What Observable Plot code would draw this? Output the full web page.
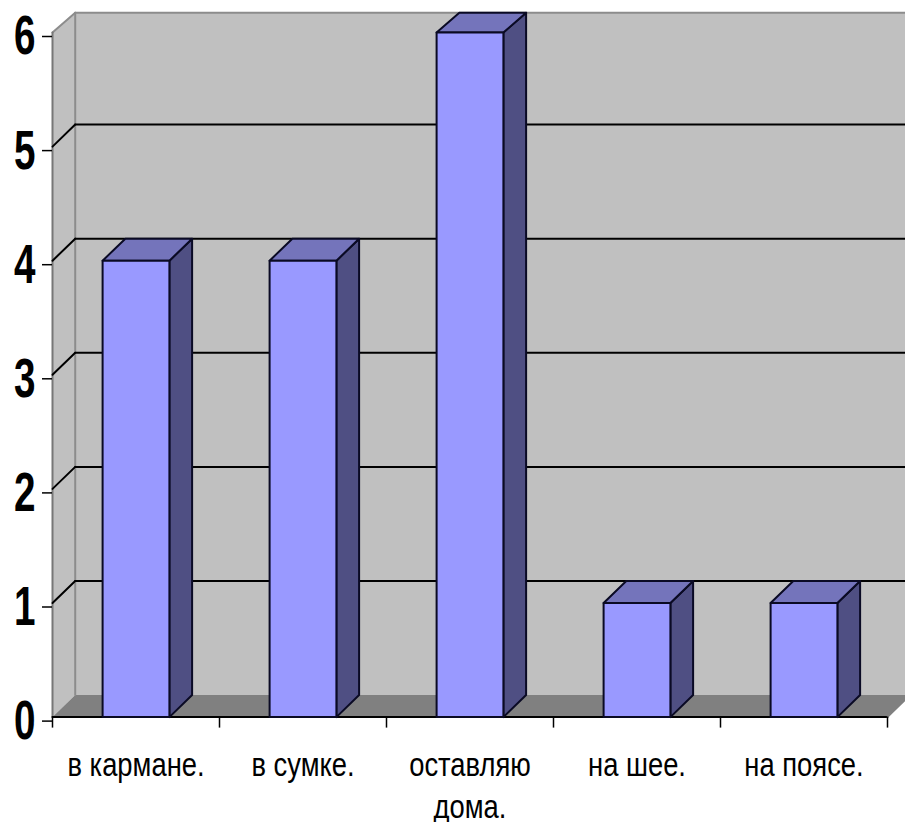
<!DOCTYPE html>
<html>
<head>
<meta charset="utf-8">
<style>html,body{margin:0;padding:0;background:#fff;overflow:hidden}svg{display:block}</style>
<script src="https://cdn.jsdelivr.net/npm/d3@7"></script>
<script src="https://cdn.jsdelivr.net/npm/@observablehq/plot@0.6"></script>
</head>
<body>
<div id="chart"></div>
<script>
const categories = ["в кармане.", "в сумке.", "оставляю\nдома.", "на шее.", "на поясе."];
const values = [4, 4, 6, 1, 1];
const yTicks = [0, 1, 2, 3, 4, 5, 6];
const gridValues = [1, 2, 3, 4, 5];

// Oblique depth of the 3D box, in data units
const depthX = 0.136, depthY = 0.193;
const barStart = 0.3, barEnd = 0.7;
const wallTop = 6.173, rightEnd = categories.length;

const C = {wall:"#c0c0c0", floor:"#808080", edge:"#8c8c8c", front:"#9999ff", side:"#4f4f83", top:"#7474bb", line:"#0a0a24"};
const font = "'Liberation Sans',sans-serif";

const poly = (pts, fill, stroke, strokeWidth) => Plot.line(
  [...pts, pts[0]].map(([x, y]) => ({x, y})),
  {x:"x", y:"y", fill, stroke: stroke ?? "none", strokeWidth: strokeWidth ?? 1, strokeLinejoin:"round", curve:"linear"}
);
const seg = (a, b, stroke, strokeWidth) => Plot.line(
  [a, b].map(([x, y]) => ({x, y})), {x:"x", y:"y", stroke, strokeWidth}
);
// Narrow the glyphs of a text mark about its anchor point
const narrow = (sx) => (index, scales, values, dimensions, context, next) => {
  const g = next(index, scales, values, dimensions, context);
  g.querySelectorAll("text").forEach((t) => {
    t.setAttribute("transform", `${t.getAttribute("transform") ?? ""} scale(${sx},1)`);
  });
  return g;
};

const marks = [];
// back wall, side wall, floor
marks.push(poly([[depthX, depthY],[rightEnd+depthX, depthY],[rightEnd+depthX, wallTop],[depthX, wallTop]], C.wall));
marks.push(poly([[0,0],[depthX,depthY],[depthX,wallTop],[0,6]], C.wall));
marks.push(poly([[0,0],[depthX,depthY],[rightEnd+depthX,depthY],[rightEnd,0]], C.floor));
// wall edges
marks.push(seg([depthX,depthY],[depthX,wallTop],C.edge,2));
marks.push(seg([0,6],[depthX,wallTop],C.edge,2));
marks.push(seg([depthX,wallTop],[rightEnd+depthX,wallTop],C.edge,2));
marks.push(seg([0,0],[0,6],"#777",2));
// gridlines
for (const g of gridValues) {
  marks.push(seg([0,g],[depthX,g+depthY],"#000",2));
  marks.push(seg([depthX,g+depthY],[rightEnd+depthX,g+depthY],"#000",2));
}
// front floor edge and category ticks
marks.push(seg([0,0],[rightEnd,0],"#000",2));
marks.push(seg([rightEnd,0],[rightEnd+depthX,depthY],"#808080",1.5));
marks.push(Plot.axisX({
  ticks: d3.range(categories.length + 1), tickSize: 11, tickFormat: () => "", label: null,
  stroke: "#000", strokeWidth: 1.5
}));
// bars
values.forEach((v, i) => {
  const l = i + barStart, r = i + barEnd;
  const b = Math.min(v + depthY, wallTop);
  marks.push(poly([[r,0],[r+depthX,depthY],[r+depthX,b],[r,v]], C.side, C.line, 2));
  marks.push(poly([[l,v],[r,v],[r+depthX,b],[l+depthX,b]], C.top, C.line, 2));
  marks.push(poly([[l,0],[r,0],[r,v],[l,v]], C.front, C.line, 2));
});
// axes
marks.push(Plot.axisX({
  ticks: categories.map((_, i) => i + 0.5),
  tickFormat: (d) => categories[Math.floor(d)],
  tickSize: 0, tickPadding: 28, label: null,
  fontSize: 34, fontFamily: font, fill: "#000", lineHeight: 1.26, render: narrow(0.805)
}));
marks.push(Plot.axisY({
  ticks: yTicks, tickSize: 10, tickPadding: 7, label: null, tickFormat: d3.format("d"),
  fontSize: 56, fontWeight: "bold", fontFamily: font, fill: "#000", stroke: "#000", strokeWidth: 1.5, dy: 4,
  render: narrow(0.69)
}));

const chart = Plot.plot({
  width: 905, height: 822,
  marginTop: 32, marginRight: 18, marginBottom: 105.4, marginLeft: 52,
  style: {background: "#fff", overflow: "hidden"},
  x: {type: "linear", domain: [0, rightEnd], axis: null},
  y: {type: "linear", domain: [0, 6], axis: null},
  marks
});
document.getElementById("chart").append(chart);
</script>
</body>
</html>
